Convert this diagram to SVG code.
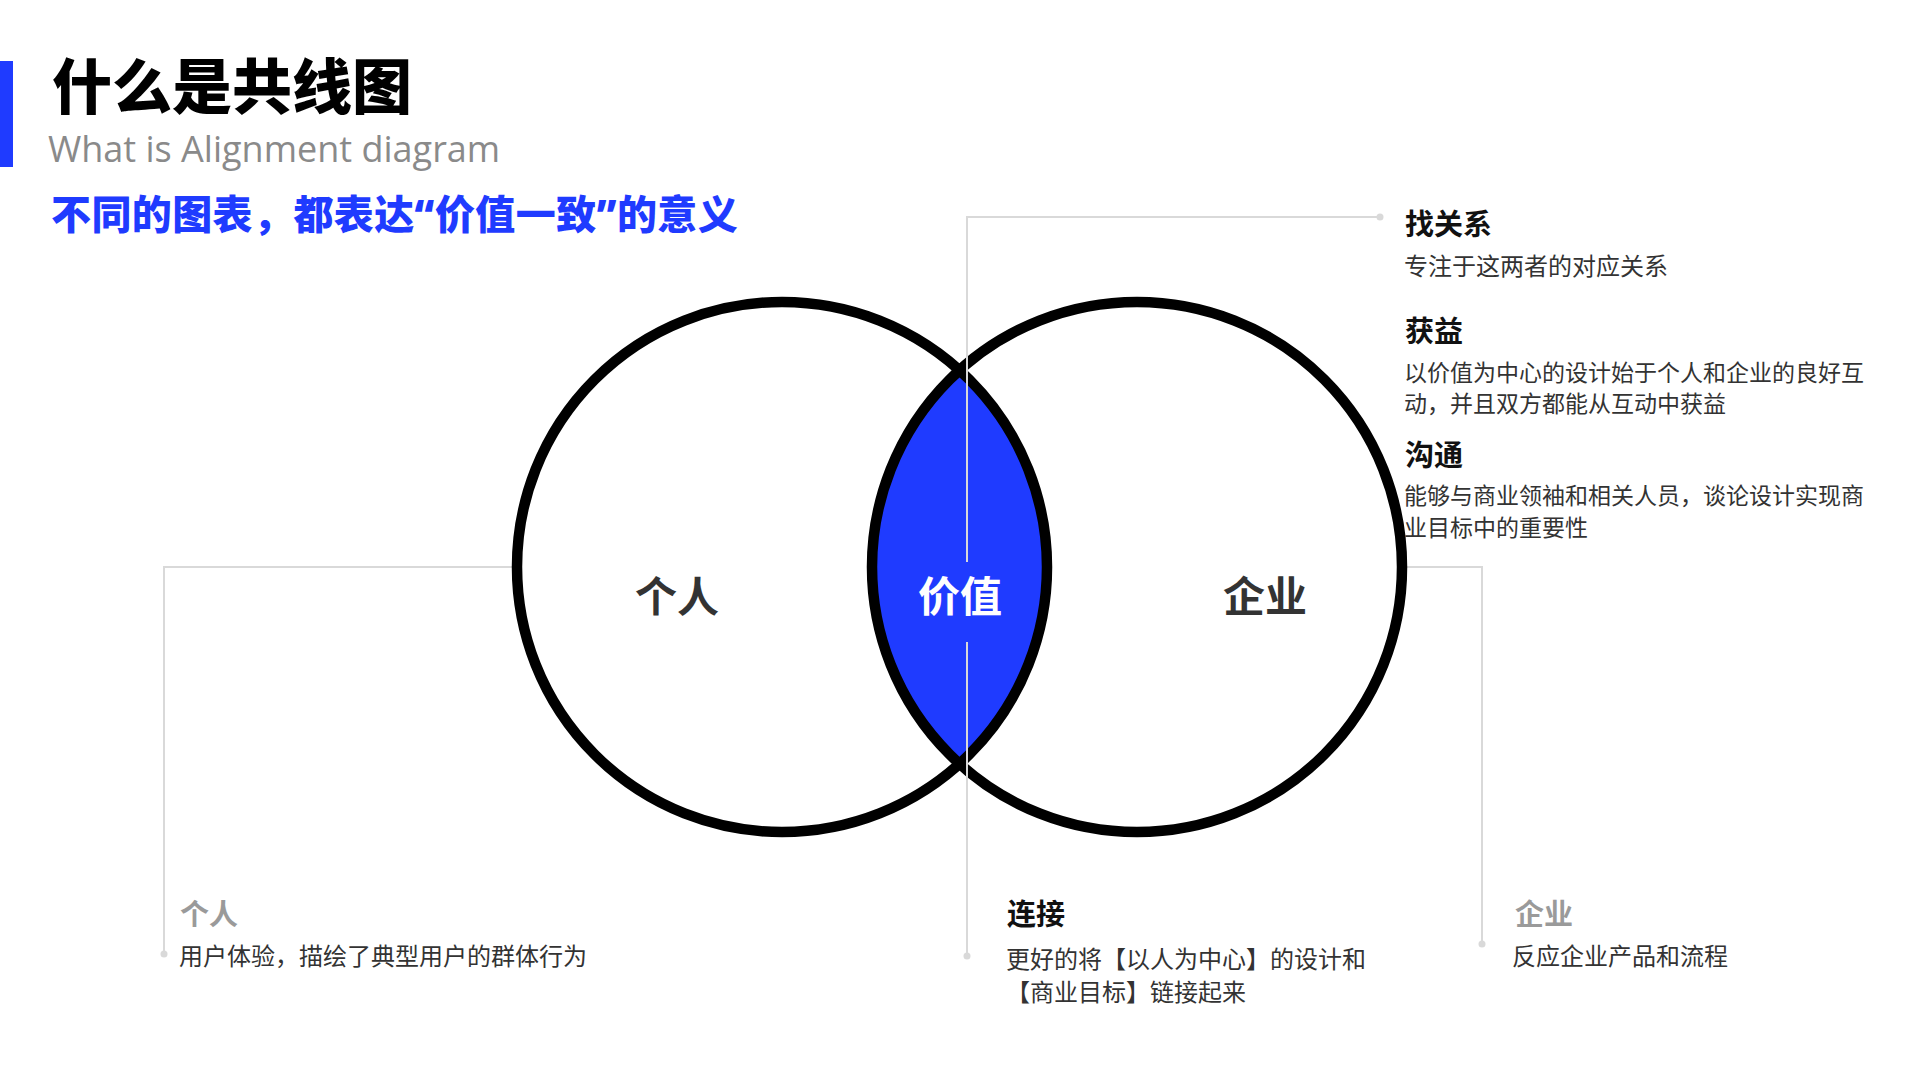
<svg xmlns="http://www.w3.org/2000/svg" width="1920" height="1080" viewBox="0 0 1920 1080">
  <style>
    .cjk { font-family: "Noto Sans CJK SC", "Noto Sans", sans-serif; }
    .title { font-size: 60px; font-weight: 900; fill: #000; }
    .sub { font-family: "Open Sans", "Noto Sans", sans-serif; font-size: 36px; fill: #8a8a8a; }
    .lead { font-family: "Noto Sans", "Noto Sans CJK SC", sans-serif; font-size: 40px; font-weight: 900; fill: #1f3bff; letter-spacing: 0.4px; }
    .head { font-size: 29px; font-weight: 700; fill: #111; }
    .headgray { font-size: 29px; font-weight: 700; fill: #9a9a9a; }
    .desc { font-size: 24px; font-weight: 400; fill: #333; }
    .desc23 { font-size: 23px; font-weight: 400; fill: #333; }
    .big { font-size: 42px; font-weight: 700; fill: #333; text-anchor: middle; }
    .bigw { font-size: 42px; font-weight: 700; fill: #fff; text-anchor: middle; }
    .conn { stroke: #d9d9d9; stroke-width: 2; fill: none; }
    .dot { fill: #d9d9d9; }
    .ring { fill: none; stroke: #000; stroke-width: 10.5; }
  </style>
  <rect width="1920" height="1080" fill="#fff"/>

  <g id="header">
    <rect x="0" y="61" width="13" height="106" fill="#1f3bff"/>
    <text class="cjk title" x="52" y="109">什么是共线图</text>
    <text class="sub" x="48" y="162">What is Alignment diagram</text>
    <text class="lead" x="51" y="229">不同的图表，都表达“价值一致”的意义</text>
  </g>

  <g id="connectors">
    <polyline class="conn" points="517,567 164,567 164,954"/>
    <circle class="dot" cx="164" cy="954" r="3.5"/>
    <polyline class="conn" points="1402,567 1482,567 1482,944"/>
    <circle class="dot" cx="1482" cy="944" r="3.5"/>
  </g>

  <g id="venn">
    <circle cx="782" cy="567" r="265" fill="#fff"/>
    <circle cx="1137" cy="567" r="265" fill="#fff"/>
    <path id="lens" d="M959.5 370.2 A265 265 0 0 1 959.5 763.8 A265 265 0 0 1 959.5 370.2 Z" fill="#1f3bff"/>
    <circle id="circle-person" class="ring" cx="782" cy="567" r="265"/>
    <circle id="circle-enterprise" class="ring" cx="1137" cy="567" r="265"/>
  </g>

  <g id="connectors-top">
    <polyline class="conn" points="1380,217 967,217 967,562"/>
    <circle class="dot" cx="1380" cy="217" r="3.5"/>
    <line class="conn" x1="967" y1="642" x2="967" y2="956"/>
    <circle class="dot" cx="967" cy="956" r="3.5"/>
  </g>

  <g id="node-person"><text class="cjk big" x="677" y="612">个人</text></g>
  <g id="node-value"><text class="cjk bigw" x="960" y="612">价值</text></g>
  <g id="node-enterprise"><text class="cjk big" x="1265" y="612">企业</text></g>

  <g id="note-relation">
    <text class="cjk head" x="1405" y="235">找关系</text>
    <text class="cjk desc" x="1404" y="275">专注于这两者的对应关系</text>
  </g>
  <g id="note-benefit">
    <text class="cjk head" x="1405" y="342">获益</text>
    <text class="cjk desc23" x="1404" y="381">以价值为中心的设计始于个人和企业的良好互</text>
    <text class="cjk desc23" x="1404" y="412">动，并且双方都能从互动中获益</text>
  </g>
  <g id="note-communicate">
    <text class="cjk head" x="1405" y="466">沟通</text>
    <text class="cjk desc23" x="1404" y="504">能够与商业领袖和相关人员，谈论设计实现商</text>
    <text class="cjk desc23" x="1404" y="536">业目标中的重要性</text>
  </g>
  <g id="note-person">
    <text class="cjk headgray" x="180" y="925">个人</text>
    <text class="cjk desc" x="179" y="965">用户体验，描绘了典型用户的群体行为</text>
  </g>
  <g id="note-connect">
    <text class="cjk head" x="1007" y="925">连接</text>
    <text class="cjk desc" x="1006" y="968">更好的将【以人为中心】的设计和</text>
    <text class="cjk desc" x="1006" y="1001">【商业目标】链接起来</text>
  </g>
  <g id="note-enterprise">
    <text class="cjk headgray" x="1515" y="925">企业</text>
    <text class="cjk desc" x="1512" y="965">反应企业产品和流程</text>
  </g>
</svg>
